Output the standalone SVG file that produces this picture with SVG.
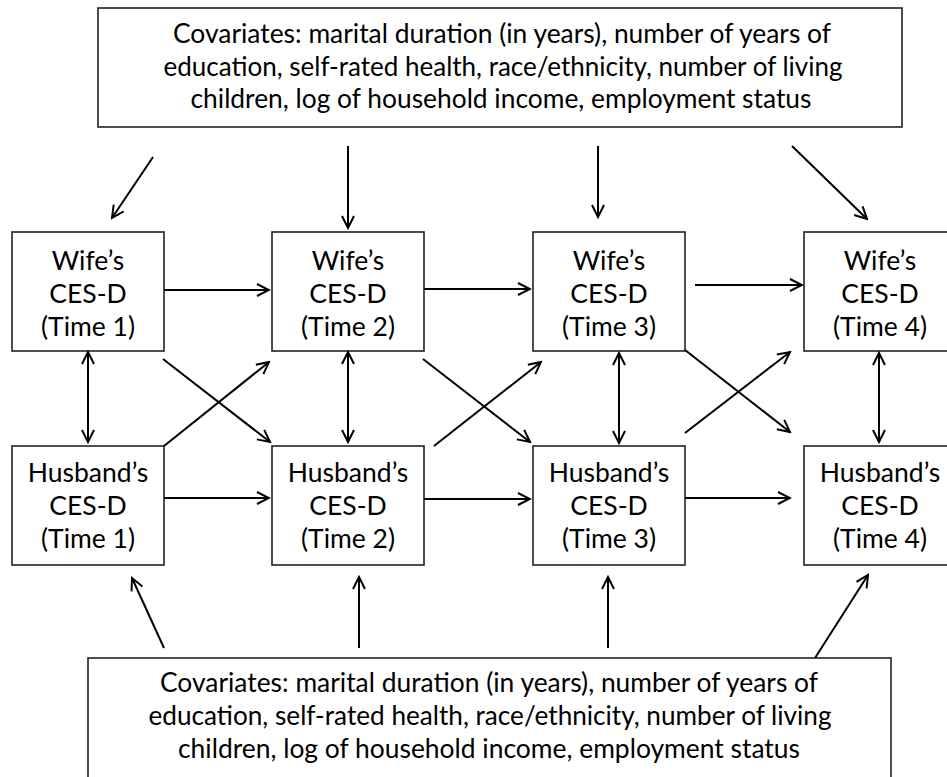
<svg xmlns="http://www.w3.org/2000/svg" width="947" height="777" viewBox="0 0 947 777">
<style>
  .box { fill: #fff; stroke: #222; stroke-width: 1.6; }
  .t { font-family: Lato, "Liberation Sans", sans-serif; font-size: 26px; fill: #000; text-anchor: middle; }
  .n { font-size: 26.5px; }
  .c { stroke: #000; stroke-width: 2; fill: none; marker-end: url(#ah); }
  .d { marker-start: url(#ah); }
</style>
<defs>
  <marker id="ah" markerUnits="userSpaceOnUse" viewBox="-14 -8 16 16" refX="0" refY="0" markerWidth="16" markerHeight="16" orient="auto-start-reverse">
    <path d="M-12,-6 L0,0 L-12,6" fill="none" stroke="#000" stroke-width="2"/>
  </marker>
</defs>
<rect width="947" height="777" fill="#fff"/>

<g id="cov-top">
  <rect class="box" x="98" y="8" width="804" height="119"/>
  <text class="t" x="502" y="43" textLength="658" lengthAdjust="spacingAndGlyphs">Covariates: marital duration (in years), number of years of</text>
  <text class="t" x="503" y="76" textLength="679" lengthAdjust="spacingAndGlyphs">education, self-rated health, race/ethnicity, number of living</text>
  <text class="t" x="501" y="108" textLength="621" lengthAdjust="spacingAndGlyphs">children, log of household income, employment status</text>
</g>

<g id="cov-bottom">
  <rect class="box" x="88" y="658" width="803" height="130"/>
  <text class="t" x="489" y="692" textLength="658" lengthAdjust="spacingAndGlyphs">Covariates: marital duration (in years), number of years of</text>
  <text class="t" x="490" y="725" textLength="683" lengthAdjust="spacingAndGlyphs">education, self-rated health, race/ethnicity, number of living</text>
  <text class="t" x="489" y="758" textLength="622" lengthAdjust="spacingAndGlyphs">children, log of household income, employment status</text>
</g>

<g id="wife1">
  <rect class="box" x="12" y="232" width="152" height="119"/>
  <text class="t n" x="88" y="270">Wife’s</text>
  <text class="t n" x="88" y="303">CES-D</text>
  <text class="t n" x="88" y="336">(Time 1)</text>
</g>
<g id="wife2">
  <rect class="box" x="272" y="232" width="152" height="119"/>
  <text class="t n" x="348" y="270">Wife’s</text>
  <text class="t n" x="348" y="303">CES-D</text>
  <text class="t n" x="348" y="336">(Time 2)</text>
</g>
<g id="wife3">
  <rect class="box" x="533" y="232" width="152" height="119"/>
  <text class="t n" x="609" y="270">Wife’s</text>
  <text class="t n" x="609" y="303">CES-D</text>
  <text class="t n" x="609" y="336">(Time 3)</text>
</g>
<g id="wife4">
  <rect class="box" x="804" y="232" width="152" height="119"/>
  <text class="t n" x="880" y="270">Wife’s</text>
  <text class="t n" x="880" y="303">CES-D</text>
  <text class="t n" x="880" y="336">(Time 4)</text>
</g>

<g id="husband1">
  <rect class="box" x="12" y="446" width="152" height="119"/>
  <text class="t n" x="88" y="482">Husband’s</text>
  <text class="t n" x="88" y="515">CES-D</text>
  <text class="t n" x="88" y="548">(Time 1)</text>
</g>
<g id="husband2">
  <rect class="box" x="272" y="446" width="152" height="119"/>
  <text class="t n" x="348" y="482">Husband’s</text>
  <text class="t n" x="348" y="515">CES-D</text>
  <text class="t n" x="348" y="548">(Time 2)</text>
</g>
<g id="husband3">
  <rect class="box" x="533" y="446" width="152" height="119"/>
  <text class="t n" x="609" y="482">Husband’s</text>
  <text class="t n" x="609" y="515">CES-D</text>
  <text class="t n" x="609" y="548">(Time 3)</text>
</g>
<g id="husband4">
  <rect class="box" x="804" y="446" width="152" height="119"/>
  <text class="t n" x="880" y="482">Husband’s</text>
  <text class="t n" x="880" y="515">CES-D</text>
  <text class="t n" x="880" y="548">(Time 4)</text>
</g>

<g id="connectors">
  <!-- top covariates -->
  <line class="c" x1="153" y1="157" x2="112" y2="218"/>
  <line class="c" x1="348" y1="146" x2="348" y2="228"/>
  <line class="c" x1="598" y1="146" x2="598" y2="217"/>
  <line class="c" x1="792" y1="146" x2="867" y2="219"/>
  <!-- bottom covariates -->
  <line class="c" x1="164" y1="648" x2="132" y2="578"/>
  <line class="c" x1="359" y1="648" x2="359" y2="577"/>
  <line class="c" x1="608" y1="648" x2="608" y2="577"/>
  <line class="c" x1="815" y1="658" x2="868" y2="575"/>
  <!-- wife stability -->
  <line class="c" x1="164" y1="290" x2="269" y2="290"/>
  <line class="c" x1="424" y1="289" x2="530" y2="289"/>
  <line class="c" x1="695" y1="285" x2="802" y2="285"/>
  <!-- husband stability -->
  <line class="c" x1="164" y1="498" x2="269" y2="498"/>
  <line class="c" x1="424" y1="499" x2="530" y2="499"/>
  <line class="c" x1="685" y1="498" x2="790" y2="498"/>
  <!-- within-time correlations -->
  <line class="c d" x1="88" y1="352" x2="88" y2="442"/>
  <line class="c d" x1="348" y1="352" x2="348" y2="442"/>
  <line class="c d" x1="619" y1="353" x2="619" y2="443"/>
  <line class="c d" x1="879" y1="353" x2="879" y2="442"/>
  <!-- cross-lagged -->
  <line class="c" x1="163" y1="359" x2="270" y2="442"/>
  <line class="c" x1="164" y1="446" x2="269" y2="362"/>
  <line class="c" x1="423" y1="359" x2="530" y2="442"/>
  <line class="c" x1="434" y1="446" x2="541" y2="362"/>
  <line class="c" x1="685" y1="350" x2="790" y2="432"/>
  <line class="c" x1="685" y1="433" x2="790" y2="352"/>
</g>
</svg>
